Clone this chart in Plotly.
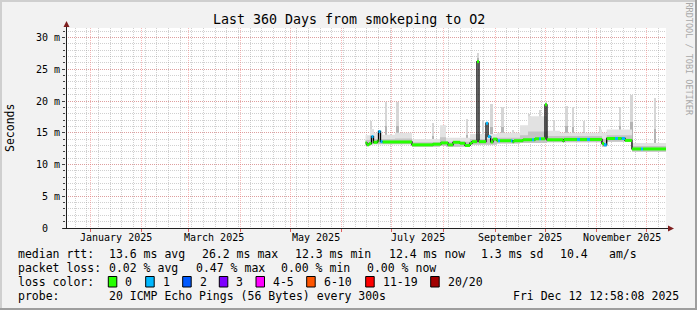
import plotly.graph_objects as go
import pandas as pd

# ------------------------------------------------------------------ data
end_time = "2025-12-12 12:58:08"
span_days = 360

# median RTT (ms), step series, with loss class index per step
med_time = [
    "2025-06-15 06:00", "2025-06-16 03:00", "2025-06-17 08:00", "2025-06-18 20:00",
    "2025-06-20 01:00", "2025-06-22 10:30", "2025-06-23 01:00", "2025-06-24 06:00",
    "2025-06-25 10:30", "2025-07-13 03:00", "2025-07-25 18:00", "2025-07-30 13:00",
    "2025-08-03 18:00", "2025-08-06 18:00", "2025-08-10 22:30", "2025-08-13 22:30",
    "2025-08-16 22:30", "2025-08-18 03:00", "2025-08-21 03:00", "2025-08-22 08:00",
    "2025-08-26 13:00", "2025-08-27 18:00", "2025-08-29 08:40", "2025-08-30 18:00",
    "2025-09-02 03:00", "2025-09-02 18:00", "2025-09-03 22:30", "2025-09-10 13:00",
    "2025-09-11 10:30", "2025-09-12 08:00", "2025-09-17 18:00", "2025-09-23 03:00",
    "2025-09-24 08:00", "2025-09-24 22:30", "2025-09-27 08:00", "2025-09-28 13:00",
    "2025-09-30 22:30", "2025-10-02 03:00", "2025-10-11 18:00", "2025-10-12 08:00",
    "2025-10-20 03:00", "2025-10-21 22:30", "2025-10-26 03:00", "2025-10-27 22:30",
    "2025-11-04 03:00", "2025-11-05 08:00", "2025-11-06 23:00", "2025-11-11 22:30",
    "2025-11-13 18:00", "2025-11-15 23:00", "2025-11-17 22:30", "2025-11-22 03:00",
    "2025-11-27 13:00", "2025-11-28 18:00", "2025-12-12 13:00",
]
med_ms = [
    13.4, 13.1, 13.3, 14.4,
    13.5, 13.7, 15.2, 13.6,
    13.55, 13.1, 13.2, 13.4,
    13.1, 13.5, 13.35, 13.0,
    13.35, 13.6, 26.2, 13.6,
    16.5, 14.4, 13.55, 14.0,
    13.75, 13.75, 13.75, 13.75,
    13.6, 13.75, 13.9, 13.9,
    13.9, 14.05, 14.05, 14.05,
    19.4, 13.9, 13.7, 13.95,
    13.95, 13.95, 13.95, 13.95,
    13.3, 13.1, 14.1, 14.1,
    14.1, 14.1, 13.8, 12.45,
    12.45, 12.45, 12.4,
]
med_loss = [
    0, 0, 0, 1,
    0, 0, 1, 1,
    0, 0, 0, 0,
    0, 0, 0, 0,
    0, 0, 0, 0,
    1, 1, 0, 0,
    0, 1, 0, 1,
    0, 0, 0, 1,
    0, 0, 1, 0,
    0, 0, 0, 0,
    1, 0, 1, 0,
    0, 1, 0, 1,
    0, 1, 0, 0,
    1, 0, 0,
]

# smoke (ping distribution) bands, step series (ms)
smoke_time = [
    "2025-06-15 06:00", "2025-06-17 22:00", "2025-06-20 08:00", "2025-06-25 10:00",
    "2025-07-02 22:00", "2025-07-13 03:00", "2025-07-29 22:00", "2025-08-02 13:00",
    "2025-08-16 22:00", "2025-09-02 03:00", "2025-09-15 22:00", "2025-09-20 18:00",
    "2025-10-02 03:00", "2025-10-09 22:00", "2025-11-02 22:00", "2025-11-04 03:00",
    "2025-11-06 23:00", "2025-11-22 03:00", "2025-12-12 13:00",
]
smoke_lo = [13.0, 13.2, 13.2, 13.2, 13.2, 12.8, 12.9, 12.8, 13.1, 13.3,
            13.4, 13.4, 13.5, 13.5, 13.5, 12.8, 13.6, 12.0, 12.0]
smoke_mid = [13.9, 14.6, 14.0, 14.0, 14.1, 13.5, 14.3, 13.6, 14.0, 14.2,
             14.6, 15.2, 14.5, 14.5, 14.5, 14.0, 14.6, 12.9, 12.9]
smoke_hi = [14.6, 15.6, 15.0, 14.7, 15.0, 14.0, 16.2, 14.2, 14.8, 15.0,
            16.2, 17.6, 15.3, 15.0, 15.5, 15.0, 15.5, 13.4, 13.4]

# isolated smoke spikes (max ping, ms)
spike_time = [
    "2025-06-18 20:00", "2025-06-27 20:00", "2025-07-04 13:00", "2025-07-25 18:00",
    "2025-08-01 15:00", "2025-08-15 03:00", "2025-08-21 18:00", "2025-08-24 18:00",
    "2025-08-29 23:00", "2025-09-05 13:30", "2025-09-11 18:00", "2025-09-21 08:00",
    "2025-09-27 22:30", "2025-10-01 12:30", "2025-10-06 08:00", "2025-10-13 23:00",
    "2025-10-18 01:00", "2025-10-24 08:00", "2025-11-03 06:00", "2025-11-14 22:30",
    "2025-11-21 23:00", "2025-12-05 22:30",
]
spike_top = [16.8, 19.8, 19.8, 16.5, 16.3, 17.2, 27.6, 16.8, 19.6, 19.1, 15.5,
             18.0, 18.6, 19.9, 16.8, 19.2, 19.0, 16.8, 16.0, 19.0, 21.0, 20.5]

y_ticks = [0, 5, 10, 15, 20, 25, 30]
y_tick_labels = ["0\u00a0\u00a0", "5 m", "10 m", "15 m", "20 m", "25 m", "30 m"]
month_labels = ["January 2025", "March 2025", "May 2025", "July 2025",
                "September 2025", "November 2025"]

loss_labels = ["0", "1", "2", "3", "4-5", "6-10", "11-19", "20/20"]
loss_colors = ["#26ff00", "#00b8ff", "#0059ff", "#7e00ff", "#ff00ff",
               "#ff5500", "#ff0000", "#a10000"]

title_text = "Last 360 Days from smokeping to O2"
stat_rows = [
    ["median rtt:", "13.6 ms avg", "26.2 ms max", "12.3 ms min", "12.4 ms now",
     "1.3 ms sd", "10.4", "am/s"],
    ["packet loss:", "0.02 % avg", "0.47 % max", "0.00 % min", "0.00 % now"],
]
probe_text = ["probe:", "20 ICMP Echo Pings (56 Bytes) every 300s"]
stamp_text = "Fri Dec 12 12:58:08 2025"

# ------------------------------------------------------------------ layout constants
W, H = 697, 310
L, T, PW, PH = 66, 28, 600, 200
MONO = "DejaVu Sans Mono"


def px2x(px):
    return (px - L) / PW


def py2y(py):
    return (T + PH - py) / PH


end_ts = pd.Timestamp(end_time)
start_ts = end_ts - pd.Timedelta(days=span_days)

fig = go.Figure()

# smoke light band
fig.add_trace(go.Scatter(x=smoke_time, y=smoke_lo, mode="lines", line=dict(width=0, shape="hv"),
                         hoverinfo="skip", showlegend=False))
fig.add_trace(go.Scatter(x=smoke_time, y=smoke_hi, mode="lines", line=dict(width=0, shape="hv"),
                         fill="tonexty", fillcolor="#e2e2e2", hoverinfo="skip", showlegend=False))
# smoke dark band
fig.add_trace(go.Scatter(x=smoke_time, y=smoke_lo, mode="lines", line=dict(width=0, shape="hv"),
                         hoverinfo="skip", showlegend=False))
fig.add_trace(go.Scatter(x=smoke_time, y=smoke_mid, mode="lines", line=dict(width=0, shape="hv"),
                         fill="tonexty", fillcolor="#c4c4c4", hoverinfo="skip", showlegend=False))

# spikes: base = median at that moment; light upper part, darker lower part
med_series = pd.Series(med_ms, index=pd.to_datetime(med_time))
sp_t = pd.to_datetime(spike_time)
sp_base = [float(med_series.asof(t)) for t in sp_t]
sp_len = [top - b for top, b in zip(spike_top, sp_base)]
fig.add_trace(go.Bar(x=sp_t, y=sp_len, base=sp_base,
                     width=1.0 * 86400000, marker=dict(color="#d6d6d6", line=dict(width=0)),
                     hoverinfo="skip", showlegend=False))
fig.add_trace(go.Bar(x=sp_t, y=[0.4 * v for v in sp_len], base=sp_base,
                     width=1.0 * 86400000, marker=dict(color="#b4b4b4", line=dict(width=0)),
                     hoverinfo="skip", showlegend=False))

# median black step line
fig.add_trace(go.Scatter(x=med_time, y=med_ms, mode="lines",
                         line=dict(color="#000000", width=1.3, shape="hv"),
                         hoverinfo="skip", showlegend=False))
# median coloured by loss
for cls in sorted(set(med_loss)):
    xs, ys = [], []
    for i in range(len(med_time) - 1):
        if med_loss[i] == cls:
            xs += [med_time[i], med_time[i + 1], None]
            ys += [med_ms[i], med_ms[i], None]
    fig.add_trace(go.Scatter(x=xs, y=ys, mode="lines",
                             line=dict(color=loss_colors[cls], width=3),
                             hoverinfo="skip", showlegend=False, connectgaps=False))

grid_minor = "rgba(150,150,150,0.45)"
grid_major = "rgba(240,100,100,0.45)"

fig.update_layout(
    width=W, height=H,
    margin=dict(l=L, r=W - L - PW, t=T, b=H - T - PH, pad=0),
    paper_bgcolor="#f2f2f2", plot_bgcolor="#ffffff",
    barmode="overlay", bargap=0,
    font=dict(family=MONO, size=10, color="#000000"),
    xaxis=dict(
        type="date", range=[start_ts, end_ts], showticklabels=False,
        dtick="M1", tick0="2025-01-01",
        showgrid=True, gridcolor=grid_major, griddash="1px,1px", gridwidth=1,
        ticks="outside", ticklen=3, tickcolor="#e06060",
        minor=dict(dtick=7 * 86400000, tick0="2025-01-06", showgrid=True,
                   gridcolor=grid_minor, griddash="1px,1px", gridwidth=1),
        showline=False, zeroline=False, fixedrange=True,
    ),
    yaxis=dict(
        range=[0, 31.5], tickmode="array", tickvals=y_ticks, ticktext=y_tick_labels,
        showgrid=True, gridcolor=grid_major, griddash="1px,1px", gridwidth=1,
        ticks="outside", ticklen=3, tickcolor="#404040",
        tickfont=dict(family=MONO, size=10),
        minor=dict(dtick=1, showgrid=True, gridcolor=grid_minor, griddash="1px,1px",
                   gridwidth=1, ticks="outside", ticklen=2, tickcolor="#404040"),
        showline=False, zeroline=False, fixedrange=True,
    ),
)

shapes = []
# 3D frame
shapes.append(dict(type="rect", xref="paper", yref="paper", x0=px2x(0), x1=px2x(W),
                   y0=py2y(0), y1=py2y(2), fillcolor="#cfcfcf", line=dict(width=0)))
shapes.append(dict(type="rect", xref="paper", yref="paper", x0=px2x(0), x1=px2x(2),
                   y0=py2y(0), y1=py2y(H), fillcolor="#cfcfcf", line=dict(width=0)))
shapes.append(dict(type="rect", xref="paper", yref="paper", x0=px2x(0), x1=px2x(W),
                   y0=py2y(H - 2), y1=py2y(H), fillcolor="#9e9e9e", line=dict(width=0)))
shapes.append(dict(type="rect", xref="paper", yref="paper", x0=px2x(W - 2), x1=px2x(W),
                   y0=py2y(0), y1=py2y(H), fillcolor="#9e9e9e", line=dict(width=0)))
# axes with arrows
shapes.append(dict(type="line", xref="paper", yref="paper", x0=px2x(66.5), x1=px2x(66.5),
                   y0=py2y(228.5), y1=py2y(24), line=dict(color="#202020", width=1)))
shapes.append(dict(type="line", xref="paper", yref="paper", x0=px2x(63), x1=px2x(670),
                   y0=py2y(228.5), y1=py2y(228.5), line=dict(color="#202020", width=1)))
shapes.append(dict(type="path", xref="paper", yref="paper",
                   path=f"M {px2x(63.5)},{py2y(27)} L {px2x(69.5)},{py2y(27)} L {px2x(66.5)},{py2y(21)} Z",
                   fillcolor="#7f1f1f", line=dict(width=0)))
shapes.append(dict(type="path", xref="paper", yref="paper",
                   path=f"M {px2x(668)},{py2y(225.5)} L {px2x(668)},{py2y(231.5)} L {px2x(674)},{py2y(228.5)} Z",
                   fillcolor="#7f1f1f", line=dict(width=0)))

ann = []
# title
ann.append(dict(text=title_text, xref="paper", yref="paper", x=px2x(348.5), y=py2y(19),
                xanchor="center", yanchor="middle", showarrow=False,
                font=dict(family=MONO, size=13.3)))
# y label
ann.append(dict(text="Seconds", xref="paper", yref="paper", x=px2x(10), y=py2y(128),
                xanchor="center", yanchor="middle", textangle=-90, showarrow=False,
                font=dict(family=MONO, size=11.5)))
# watermark
ann.append(dict(text="RRDTOOL / TOBI OETIKER", xref="paper", yref="paper", x=px2x(688.5),
                y=py2y(59), xanchor="center", yanchor="middle", textangle=90, showarrow=False,
                font=dict(family=MONO, size=8.5, color="#a8a8a8")))
# month labels at mid-month
for lab in month_labels:
    m0 = pd.to_datetime(lab, format="%B %Y")
    m1 = m0 + pd.offsets.MonthBegin(1)
    mid = m0 + (m1 - m0) / 2
    ann.append(dict(text=lab, xref="x", yref="paper", x=mid, y=py2y(237.7),
                    xanchor="center", yanchor="middle", showarrow=False,
                    font=dict(family=MONO, size=10)))

# legend / stats rows
row_y = [254.3, 268.3, 282.3, 296.0]
stat_x = [[16, 107.3, 200, 293, 386.7, 479.3, 558.3, 607.3],
          [16, 107.3, 194, 279.3, 365]]
for r, row in enumerate(stat_rows):
    for txt, xx in zip(row, stat_x[r]):
        ann.append(dict(text=txt, xref="paper", yref="paper", x=px2x(xx), y=py2y(row_y[r]),
                        xanchor="left", yanchor="middle", showarrow=False,
                        font=dict(family=MONO, size=11.5)))
ann.append(dict(text="loss color:", xref="paper", yref="paper", x=px2x(16), y=py2y(row_y[2]),
                xanchor="left", yanchor="middle", showarrow=False, font=dict(family=MONO, size=11.5)))
box_x = [108.3, 145.7, 182.7, 219.3, 256.0, 306.7, 365.7, 430.7]
for lab, col, bx in zip(loss_labels, loss_colors, box_x):
    shapes.append(dict(type="rect", xref="paper", yref="paper", x0=px2x(bx), x1=px2x(bx + 8.5),
                       y0=py2y(276.5), y1=py2y(287), fillcolor=col,
                       line=dict(color="#000000", width=1)))
    ann.append(dict(text=lab, xref="paper", yref="paper", x=px2x(bx + 15), y=py2y(row_y[2]),
                    xanchor="left", yanchor="middle", showarrow=False,
                    font=dict(family=MONO, size=11.5)))
ann.append(dict(text=probe_text[0], xref="paper", yref="paper", x=px2x(16), y=py2y(row_y[3]),
                xanchor="left", yanchor="middle", showarrow=False, font=dict(family=MONO, size=11.5)))
ann.append(dict(text=probe_text[1], xref="paper", yref="paper", x=px2x(107.3), y=py2y(row_y[3]),
                xanchor="left", yanchor="middle", showarrow=False, font=dict(family=MONO, size=11.5)))
ann.append(dict(text=stamp_text, xref="paper", yref="paper", x=px2x(680.5), y=py2y(row_y[3]),
                xanchor="right", yanchor="middle", showarrow=False, font=dict(family=MONO, size=11.5)))

fig.update_layout(shapes=shapes, annotations=ann)
fig.write_html("out.html")
